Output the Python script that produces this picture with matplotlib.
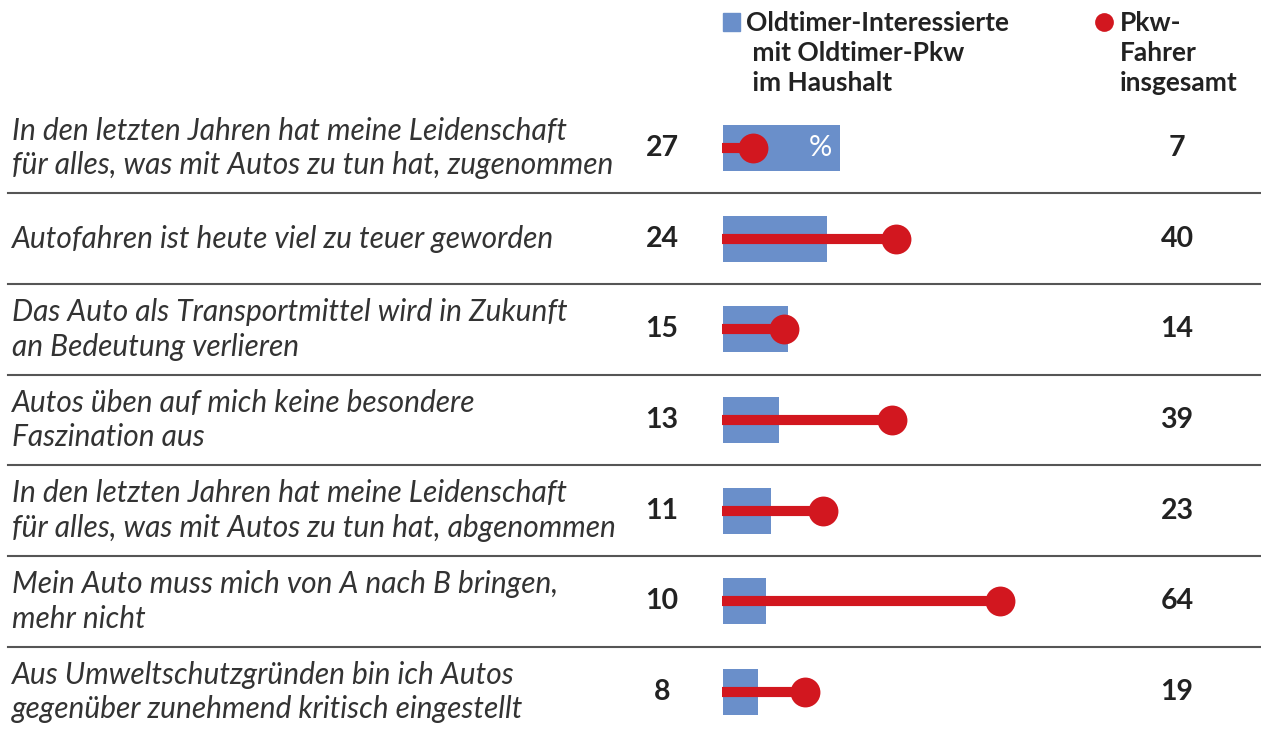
import matplotlib
matplotlib.use("Agg")
import matplotlib.pyplot as plt

labels = [
    "In den letzten Jahren hat meine Leidenschaft\nfür alles, was mit Autos zu tun hat, zugenommen",
    "Autofahren ist heute viel zu teuer geworden",
    "Das Auto als Transportmittel wird in Zukunft\nan Bedeutung verlieren",
    "Autos üben auf mich keine besondere\nFaszination aus",
    "In den letzten Jahren hat meine Leidenschaft\nfür alles, was mit Autos zu tun hat, abgenommen",
    "Mein Auto muss mich von A nach B bringen,\nmehr nicht",
    "Aus Umweltschutzgründen bin ich Autos\ngegenüber zunehmend kritisch eingestellt",
]
oldtimer = [27, 24, 15, 13, 11, 10, 8]
pkw = [7, 40, 14, 39, 23, 64, 19]
legend_bar = "Oldtimer-Interessierte\n mit Oldtimer-Pkw\n im Haushalt"
legend_dot = "Pkw-\nFahrer\ninsgesamt"

BLUE = "#6a8fca"
RED = "#d2171f"
TXT = "#222222"

W, H = 1261, 733
fig = plt.figure(figsize=(W / 100, H / 100), dpi=100)
ax = fig.add_axes([0, 0, 1, 1])
ax.axis("off")

x0px = 723
ppu = 4.33
row0 = 148
rowh = 90.67
ax.set_xlim(-x0px / ppu, (W - x0px) / ppu)
ax.set_ylim((H - row0) / rowh, -row0 / rowh)

def px2x(p):
    return (p - x0px) / ppu

def py2y(p):
    return (p - row0) / rowh

n = len(labels)
ys = list(range(n))
bh = 46 / rowh
ax.barh(ys, oldtimer, height=bh, color=BLUE, left=0, zorder=1)
for y, v in zip(ys, pkw):
    ax.plot([-0.3, v], [y, y], color=RED, lw=7.3, solid_capstyle="butt", zorder=2)
ax.scatter(pkw, ys, s=21.5 ** 2, color=RED, zorder=3, linewidths=0)

for y, lab, a, b in zip(ys, labels, oldtimer, pkw):
    ax.text(px2x(12), y, lab, ha="left", va="center", fontsize=21.5,
            family="Lato", style="italic", fontweight="normal", color="#333333",
            linespacing=1.3)
    ax.text(px2x(662), y, str(a), ha="center", va="center", fontsize=20.5,
            family="Lato", fontweight="bold", color=TXT)
    ax.text(px2x(1177), y, str(b), ha="center", va="center", fontsize=20.5,
            family="Lato", fontweight="bold", color=TXT)

ax.text(px2x(820), 0, "%", ha="center", va="center", fontsize=21,
        family="Lato", color="white", zorder=4)

for i in range(n - 1):
    ax.plot([px2x(8), px2x(W)], [i + 0.5, i + 0.5], color="#555555", lw=1.5,
            zorder=0)

# legend
ax.add_patch(plt.Rectangle((px2x(723), py2y(13)), 17 / ppu, 18 / rowh,
                           color=BLUE, transform=ax.transData))
ax.text(px2x(746), py2y(11), legend_bar, ha="left", va="top", fontsize=19,
        family="Lato", fontweight="bold", color=TXT, linespacing=1.3)
ax.scatter([px2x(1104)], [py2y(22)], s=13.5 ** 2, color=RED, linewidths=0)
ax.text(px2x(1120), py2y(11), legend_dot, ha="left", va="top", fontsize=19,
        family="Lato", fontweight="bold", color=TXT, linespacing=1.3)

fig.savefig("out.png", dpi=100)
